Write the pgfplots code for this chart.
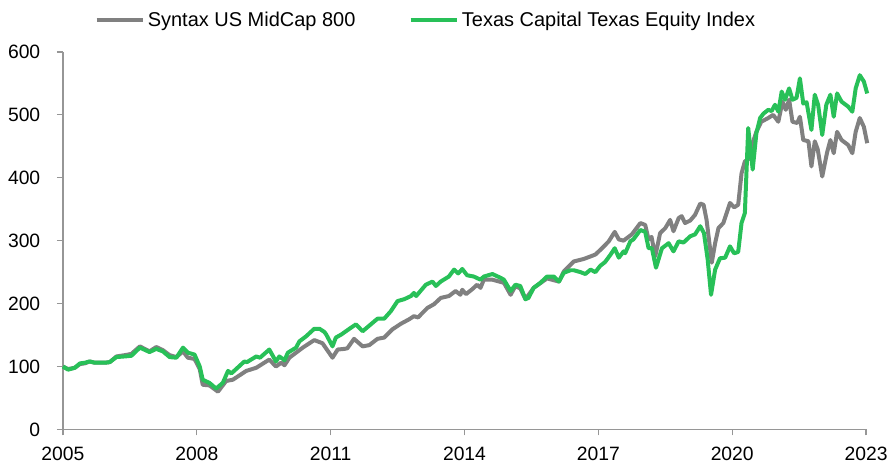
\documentclass[border=0pt]{standalone}
\usepackage{pgfplots}
\pgfplotsset{compat=1.18}
\usepackage{fontspec}
\setmainfont{Liberation Sans}
\definecolor{cgray}{RGB}{128,128,128}
\definecolor{cgreen}{RGB}{40,192,88}
\definecolor{axgray}{RGB}{150,150,150}
\begin{document}
\begin{tikzpicture}
\begin{axis}[
  scale only axis, width=604pt, height=283.5pt,
  xmin=0, xmax=216.3, ymin=0, ymax=600,
  axis x line*=bottom, axis y line*=left,
  axis line style={axgray, line width=0.9pt, -},
  tick style={axgray, line width=0.9pt},
  tick align=outside, major tick length=4.5pt,
  xtick={0,36,72,108,144,180,216},
  xticklabels={2005,2008,2011,2014,2017,2020,2023},
  ytick={0,100,200,300,400,500,600},
  /pgf/number format/assume math mode=true,
  ticklabel style={font=\fontsize{14.5}{16}\selectfont, text=black},
  yticklabel style={xshift=-9pt},
  xticklabel style={yshift=-5pt},
  legend style={at={(0.039,1.085)}, anchor=west, draw=none, fill=none,
    inner sep=0pt, font=\fontsize{15}{17}\selectfont, legend columns=2},
  legend cell align=left,
  /tikz/every even column/.append style={column sep=38pt},
  legend image code/.code={\draw[#1] (0pt,0pt) -- (35pt,0pt);},
  clip=false,
]
\addplot[cgray, line width=3pt, line join=round] coordinates {
(0,100) (1.4,96) (3.2,98) (4.6,104) (5.9,105) (7.2,108) (8.6,106) (11.3,106)
(12.6,107) (14.4,116) (16.6,118) (18.4,120) (20.7,132) (23.3,124) (25.1,131)
(26.9,126) (28.7,118) (30.5,115) (32.3,124) (33.6,114) (35.4,112) (36.8,96)
(37.6,71) (39.4,70) (41.7,60) (43.9,77) (45.7,79) (49.3,93) (52.0,98)
(55.5,111) (57.3,100) (58.7,106) (59.6,102) (60.9,114) (64.5,130) (67.6,142)
(69.8,137) (72.5,114) (73.9,127) (75.7,128) (76.5,129) (78.3,144) (80.6,132)
(82.4,134) (84.6,144) (86.4,146) (88.6,159) (90.9,168) (93.1,175) (94.4,180)
(95.5,178) (98.0,193) (99.8,199) (101.6,209) (103.8,212) (105.6,220) (106.9,214)
(107.4,222) (108.4,215) (110.1,223) (111.4,230) (112.3,225) (113.2,238) (115.5,238)
(118.6,233) (120.4,214) (121.7,228) (123.0,224) (124.4,207) (126.6,225) (130.2,240)
(133.4,235) (134.7,251) (137.4,267) (140.1,271) (141.9,275) (143.2,278) (145.0,288)
(146.8,299) (148.4,314) (149.5,302) (150.8,300) (151.2,302) (153.0,310) (155.3,328)
(156.6,325) (157.5,302) (158.3,306) (159.3,275) (160.6,312) (162.0,320) (163.3,333)
(164.2,315) (165.6,336) (166.4,339) (167.3,328) (168.7,332) (170.0,341) (171.4,359)
(172.3,357) (173.1,333) (174.5,265) (175.4,296) (176.3,320) (177.6,328) (179.4,360)
(180.5,353) (181.6,357) (182.5,407) (183.4,426) (184.3,429) (185.2,450) (186.5,473)
(187.8,489) (189.7,495) (191.0,500) (192.4,489) (193.5,521) (194.4,508) (195.3,524)
(196.2,489) (197.5,487) (198.2,497) (199.1,460) (200.5,458) (201.3,418) (202.2,458)
(203.0,445) (204.2,402) (205.5,440) (206.4,460) (207.3,439) (208.2,473) (209.4,460)
(211.2,452) (212.3,439) (213.2,473) (214.3,495) (215.4,481) (216.3,455)
};
\addlegendentry{Syntax US MidCap 800}
\addplot[cgreen, line width=3pt, line join=round] coordinates {
(0,100) (1.4,95) (3.2,98) (4.6,105) (5.9,106) (7.2,108) (8.6,106) (11.3,106)
(12.6,107) (14.4,115) (16.6,116) (18.4,117) (20.7,130) (23.3,123) (25.1,128)
(26.9,124) (28.7,115) (30.5,114) (32.3,130) (33.6,122) (35.4,119) (36.8,100)
(37.6,79) (39.4,74) (41.2,65) (43.0,74) (44.4,93) (45.3,89) (48.8,108)
(49.5,107) (52.0,116) (53.0,114) (55.5,127) (57.3,108) (58.2,116) (59.6,110)
(60.5,122) (62.7,130) (63.6,140) (65.4,148) (67.6,160) (69.0,160) (70.3,155)
(70.8,151) (72.5,132) (73.4,146) (74.9,151) (77.3,161) (78.8,167) (80.6,156)
(82.4,165) (84.6,176) (86.4,176) (88.2,188) (90.0,204) (91.8,207) (93.6,212)
(94.4,217) (95.0,212) (97.6,230) (99.4,235) (100.3,228) (101.6,235) (103.8,243)
(105.2,254) (106.3,248) (107.4,255) (108.7,245) (110.5,243) (112.3,238) (113.2,243)
(115.5,247) (117.7,241) (118.6,238) (120.4,220) (121.7,230) (123.0,228) (124.4,207)
(125.2,209) (126.6,225) (128.4,233) (130.2,243) (132.0,243) (133.4,235) (134.7,249)
(136.5,253) (137.4,253) (139.2,250) (140.5,247) (141.9,254) (143.2,250) (144.5,260)
(145.8,266) (147.3,278) (148.4,288) (149.5,273) (150.8,283) (151.2,280) (152.6,299)
(153.4,302) (155.3,317) (156.6,314) (157.5,288) (158.4,288) (159.5,257) (161.1,288)
(162.9,296) (164.2,283) (165.6,299) (166.9,297) (168.7,307) (170.0,310) (171.4,323)
(172.4,312) (173.4,270) (174.3,214) (175.4,254) (176.7,272) (178.1,273) (179.4,291)
(180.5,280) (181.6,282) (182.5,328) (183.4,344) (184.3,479) (185.5,413) (186.5,471)
(187.5,495) (188.4,502) (189.7,508) (190.6,506) (191.5,516) (192.4,505) (193.3,537)
(194.2,524) (195.3,542) (196.2,524) (197.3,527) (198.2,558) (199.1,518) (200.0,520)
(201.3,476) (202.2,532) (203.1,516) (204.2,468) (205.3,516) (206.4,532) (207.3,497)
(208.2,534) (209.4,521) (211.2,513) (212.3,505) (213.2,542) (214.3,563) (215.4,553)
(216.3,534)
};
\addlegendentry{Texas Capital Texas Equity Index}
\end{axis}
\path (current axis.south west) ++(-47.25pt,-26.25pt);
\path (current axis.north east) ++(18pt,39pt);
\end{tikzpicture}
\end{document}
